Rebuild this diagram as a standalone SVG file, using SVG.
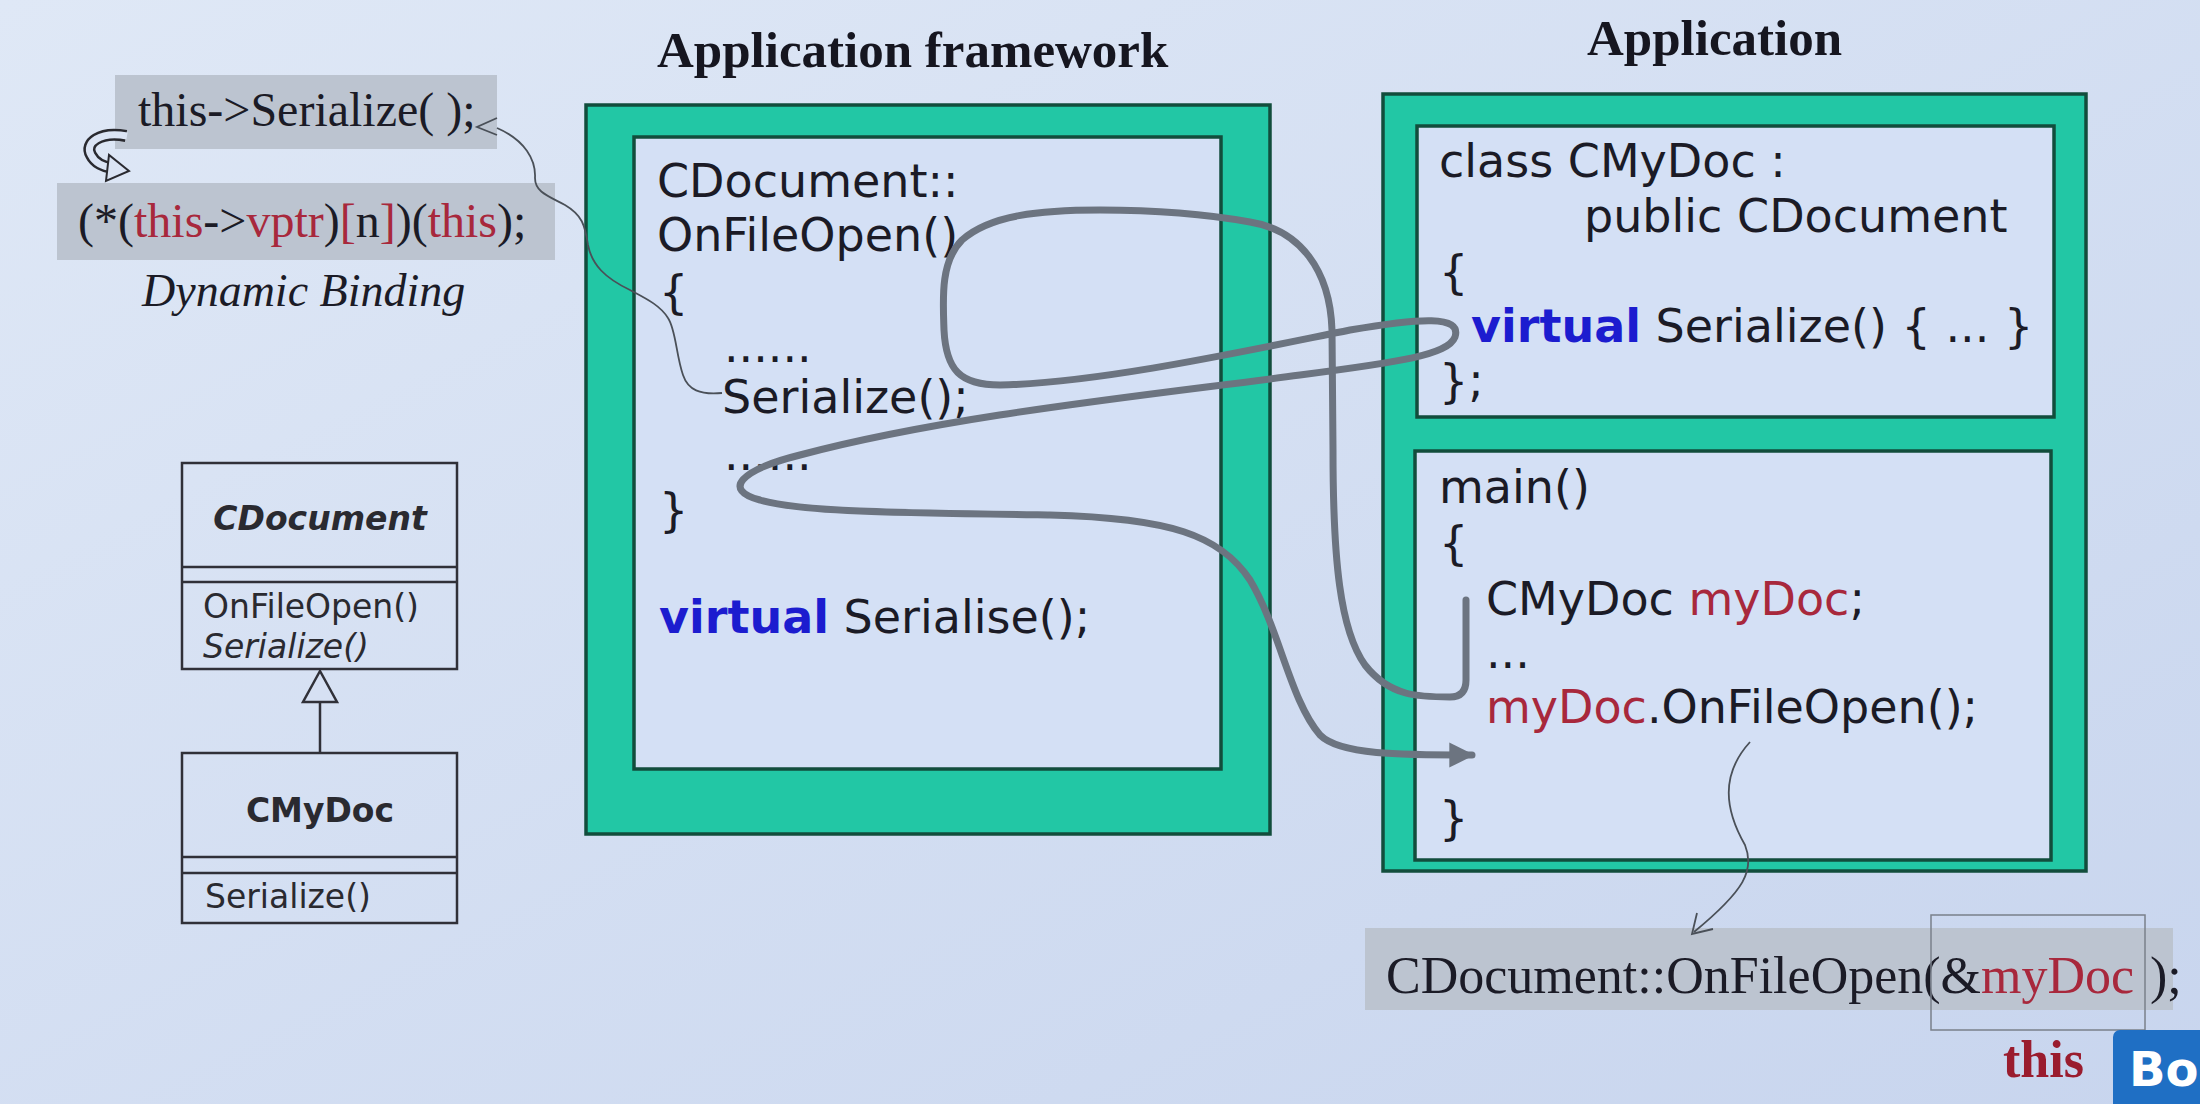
<svg xmlns="http://www.w3.org/2000/svg" width="2200" height="1104" viewBox="0 0 2200 1104">
<defs>
<linearGradient id="bg" x1="0" y1="0" x2="1" y2="1">
<stop offset="0" stop-color="#dfe8f6"/>
<stop offset="1" stop-color="#c8d5ee"/>
</linearGradient>
<marker id="thick" viewBox="0 0 10 10" refX="9" refY="5" markerWidth="4.6" markerHeight="3.6" markerUnits="strokeWidth" orient="auto">
<path d="M0 0 L10 5 L0 10 z" fill="#6c7480"/>
</marker>
<style>
.code{font-family:"DejaVu Sans",Verdana,sans-serif;font-size:46px;fill:#1b1b26}
.kw{font-weight:bold;fill:#1c1ccf}
.red{fill:#a8283c}
.serif{font-family:"Liberation Serif","Times New Roman",serif;fill:#1b1b26}
.title{font-family:"Liberation Serif","Times New Roman",serif;font-weight:bold;font-size:51px;fill:#161620}
.uml{font-family:"DejaVu Sans",Verdana,sans-serif;font-size:33px;fill:#2a2a30}
.umlbox{fill:none;stroke:#303038;stroke-width:2.5}
.green{fill:#22c7a5;stroke:#124d3c;stroke-width:3.5}
.inner{fill:#d4e0f5;stroke:#124d3c;stroke-width:3.5}
.gray{fill:#bcc4d0}
.thickc{fill:none;stroke:#6c7480;stroke-width:7;stroke-linecap:round;stroke-linejoin:round}
.thinc{fill:none;stroke:#4a5058;stroke-width:1.8}
</style>
</defs>
<rect x="0" y="0" width="2200" height="1104" fill="url(#bg)"/>

<g id="dynamic-binding">
<rect class="gray" x="115" y="75" width="382" height="74"/>
<text class="serif" x="138" y="126" font-size="48">this-&gt;Serialize( );</text>
<rect class="gray" x="57" y="183" width="498" height="77"/>
<text class="serif" x="78" y="237" font-size="48">(*(<tspan class="red">this</tspan>-&gt;<tspan class="red">vptr</tspan>)<tspan class="red">[</tspan>n<tspan class="red">]</tspan>)(<tspan class="red">this</tspan>);</text>
<text class="serif" x="142" y="306" font-size="46" font-style="italic">Dynamic Binding</text>
<path d="M 126 136 C 100 131 84 143 91 155 C 95 163 104 167 112 168" fill="none" stroke="#2a2a30" stroke-width="12"/>
<path d="M 127 136 C 100 131 84 143 91 155 C 95 163 104 167 113 168" fill="none" stroke="#dbe4f4" stroke-width="7"/>
<polygon points="129,171 109,155 106,181" fill="#dbe4f4" stroke="#2a2a30" stroke-width="2"/>
</g>

<g id="uml-cdocument">
<rect class="umlbox" x="182" y="463" width="275" height="206"/>
<line class="umlbox" x1="182" y1="567" x2="457" y2="567"/>
<line class="umlbox" x1="182" y1="582" x2="457" y2="582"/>
<text class="uml" x="320" y="530" text-anchor="middle" font-size="41" font-weight="bold" font-style="italic" fill="#1b1b22">CDocument</text>
<text class="uml" x="203" y="618">OnFileOpen()</text>
<text class="uml" x="203" y="658" font-style="italic">Serialize()</text>
</g>

<g id="uml-cmydoc">
<rect class="umlbox" x="182" y="753" width="275" height="170"/>
<line class="umlbox" x1="182" y1="857" x2="457" y2="857"/>
<line class="umlbox" x1="182" y1="873" x2="457" y2="873"/>
<text class="uml" x="320" y="822" text-anchor="middle" font-size="41" font-weight="bold" fill="#1b1b22">CMyDoc</text>
<text class="uml" x="205" y="908">Serialize()</text>
</g>

<g id="framework">
<text class="title" x="657" y="67">Application framework</text>
<rect class="green" x="586" y="105" width="684" height="729"/>
<rect class="inner" x="634" y="137" width="587" height="632"/>
<text class="code" x="657" y="197">CDocument::</text>
<text class="code" x="657" y="251">OnFileOpen()</text>
<text class="code" x="659" y="308">{</text>
<text class="code" x="724" y="362">......</text>
<text class="code" x="722" y="413">Serialize();</text>
<text class="code" x="724" y="470">......</text>
<text class="code" x="659" y="526">}</text>
<text class="code" x="659" y="633"><tspan class="kw">virtual</tspan> Serialise();</text>
</g>

<g id="application">
<text class="title" x="1587" y="55">Application</text>
<rect class="green" x="1383" y="94" width="703" height="777"/>
<rect class="inner" x="1417" y="126" width="637" height="291"/>
<rect class="inner" x="1415" y="451" width="636" height="409"/>
<text class="code" x="1439" y="177">class CMyDoc :</text>
<text class="code" x="1584" y="232">public CDocument</text>
<text class="code" x="1439" y="288">{</text>
<text class="code" x="1471" y="342"><tspan class="kw">virtual</tspan> Serialize() { ... }</text>
<text class="code" x="1439" y="397">};</text>
<text class="code" x="1439" y="503">main()</text>
<text class="code" x="1439" y="559">{</text>
<text class="code" x="1486" y="615">CMyDoc <tspan class="red">myDoc</tspan>;</text>
<text class="code" x="1486" y="668">...</text>
<text class="code" x="1486" y="723"><tspan class="red">myDoc</tspan>.OnFileOpen();</text>
<text class="code" x="1439" y="834">}</text>
</g>

<g id="expansion">
<rect class="gray" x="1365" y="928" width="808" height="82"/>
<text class="serif" x="1386" y="993" font-size="52">CDocument::OnFileOpen(&amp;<tspan class="red">myDoc</tspan><tspan x="2137"> );</tspan></text>
<rect x="1931" y="915" width="214" height="115" fill="none" stroke="#7a808a" stroke-width="1.5"/>
</g>

<g id="watermark">
<text x="2003" y="1077" font-family="Liberation Serif, serif" font-weight="bold" font-size="52" fill="#9a1c2e">this</text>
<rect x="2113" y="1030" width="100" height="80" rx="7" fill="#1f6fc4"/>
<text x="2129" y="1086" font-family="DejaVu Sans, sans-serif" font-weight="bold" font-size="48" fill="#ffffff">Bo</text>
</g>

<g id="connectors">
<line x1="320" y1="702" x2="320" y2="753" stroke="#303038" stroke-width="2.5"/>
<polygon points="320,671 303,702 337,702" fill="#d6e0f3" stroke="#303038" stroke-width="2.5"/>
<path class="thickc" marker-end="url(#thick)" d="M 1466 600 L 1466 680 Q 1466 697 1450 697 C 1420 697 1390 697 1365 665 C 1340 630 1333 560 1333 450 L 1332 330 C 1330 270 1300 230 1250 222 C 1200 213 1150 210 1100 210 C 1040 210 990 215 962 240 C 940 262 943 300 944 330 C 946 370 960 385 1000 385 C 1100 383 1250 350 1350 330 C 1420 318 1462 315 1455 337 C 1448 355 1400 362 1300 375 C 1150 395 950 415 800 455 C 740 470 722 490 760 500 C 800 512 900 513 1050 515 C 1170 518 1220 535 1250 580 C 1280 630 1290 700 1320 735 C 1340 755 1400 755 1472 755"/>
<path class="thinc" d="M 722 393 C 700 395 688 390 683 375 C 676 355 676 330 668 318 C 660 305 645 298 630 290 C 605 278 592 265 588 245 C 585 225 582 215 565 205 C 548 196 535 192 535 178 C 536 160 525 140 497 128"/>
<polyline class="thinc" points="497,118 477,127 497,135" stroke-width="2.5"/>
<path class="thinc" d="M 1750 742 C 1720 775 1725 810 1745 845 C 1755 870 1745 890 1694 932"/>
<polyline class="thinc" points="1697,913 1692,934 1713,929" stroke-width="2.5"/>
</g>
</svg>
